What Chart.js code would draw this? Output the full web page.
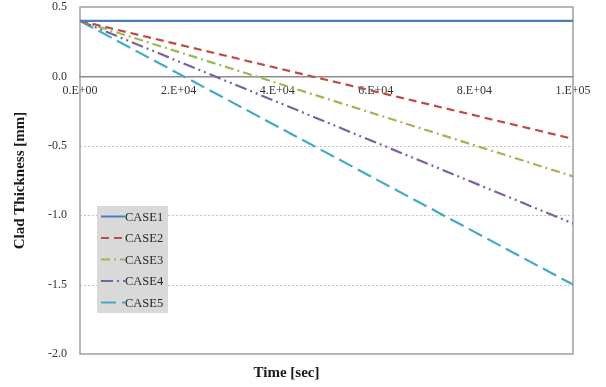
<!DOCTYPE html>
<html>
<head>
<meta charset="utf-8">
<script src="https://cdn.jsdelivr.net/npm/chart.js@4"></script>
<style>
  html, body { margin: 0; padding: 0; background: #fff; }
  #wrap { width: 606px; height: 387px; }
</style>
</head>
<body>
<div id="wrap"><canvas id="chart"></canvas></div>
<script>
const timeSec = [0, 100000];
const caseLabels = ["CASE1", "CASE2", "CASE3", "CASE4", "CASE5"];
const case1 = [0.4, 0.4];
const case2 = [0.4, -0.45];
const case3 = [0.4, -0.72];
const case4 = [0.4, -1.06];
const case5 = [0.4, -1.5];
const yTicks = [0.5, 0.0, -0.5, -1.0, -1.5, -2.0];

const colors = ["#4a7ebb", "#be4b48", "#98b954", "#7d60a0", "#46aac5"];
const dashes = [[], [8, 5], [9, 4, 2, 4], [12, 4, 2, 4, 2, 4], [15, 6]];
const serif = "'Liberation Serif', 'Times New Roman', serif";

const series = [case1, case2, case3, case4, case5];
const datasets = series.map((vals, i) => ({
  label: caseLabels[i],
  data: vals.map((y, j) => ({ x: timeSec[j], y })),
  borderColor: colors[i],
  borderDash: dashes[i],
  borderWidth: 2.2,
  pointRadius: 0,
  fill: false,
}));

function sciLabel(v) {
  if (v === 0) return "0.E+00";
  const exp = Math.floor(Math.log10(v));
  const m = Math.round(v / Math.pow(10, exp));
  return m + ".E+" + String(exp).padStart(2, "0");
}

// dotted y grid + outer frame
const framePlugin = {
  id: "frame",
  beforeDatasetsDraw(chart) {
    const { ctx, chartArea: a, scales } = chart;
    ctx.save();
    ctx.strokeStyle = "#c4c4c4";
    ctx.lineWidth = 1;
    ctx.setLineDash([2, 2]);
    for (const v of yTicks) {
      if (v === 0.5 || v === 0 || v === -2) continue;
      const y = Math.round(scales.y.getPixelForValue(v)) + 0.5;
      ctx.beginPath();
      ctx.moveTo(a.left, y);
      ctx.lineTo(a.right, y);
      ctx.stroke();
    }
    ctx.setLineDash([]);
    ctx.strokeStyle = "#a0a0a0";
    ctx.lineWidth = 1.5;
    ctx.strokeRect(a.left, a.top, a.right - a.left, a.bottom - a.top);
    ctx.restore();
  },
};

// legend box inside the plot
const boxLegend = {
  id: "boxLegend",
  afterDatasetsDraw(chart) {
    const { ctx } = chart;
    const x0 = 97, y0 = 206, w = 71, h = 107, step = 21.5;
    ctx.save();
    ctx.fillStyle = "#d9d9d9";
    ctx.fillRect(x0, y0, w, h);
    ctx.font = "12.5px " + serif;
    ctx.textBaseline = "middle";
    ctx.fillStyle = "#262626";
    chart.data.datasets.forEach((ds, i) => {
      const y = y0 + 10.5 + i * step;
      ctx.strokeStyle = ds.borderColor;
      ctx.lineWidth = 2;
      ctx.setLineDash(ds.borderDash);
      ctx.beginPath();
      ctx.moveTo(x0 + 4, y);
      ctx.lineTo(x0 + 28, y);
      ctx.stroke();
      ctx.setLineDash([]);
      ctx.fillText(ds.label, x0 + 28, y + 1);
    });
    ctx.restore();
  },
};

new Chart(document.getElementById("chart"), {
  type: "line",
  data: { datasets },
  plugins: [framePlugin, boxLegend],
  options: {
    responsive: true,
    maintainAspectRatio: false,
    animation: false,
    layout: { padding: { left: 0, right: 33, top: 7, bottom: 0 } },
    plugins: {
      legend: { display: false },
      tooltip: { enabled: false },
      title: {
        display: true,
        position: "bottom",
        text: "Time [sec]",
        color: "#1a1a1a",
        font: { family: serif, size: 15, weight: "bold" },
        padding: { top: 10, bottom: 5 },
      },
    },
    scales: {
      x: {
        type: "linear",
        position: { y: 0 },
        min: 0,
        max: 100000,
        afterFit(scale) { scale.paddingLeft = 0; scale.paddingRight = 0; },
        grid: { display: true, drawOnChartArea: false, drawTicks: false },
        border: { display: true, color: "#8c8c8c", width: 1.5 },
        ticks: {
          stepSize: 20000,
          padding: 7,
          maxRotation: 0,
          color: "#333333",
          font: { family: serif, size: 12 },
          callback: (v) => sciLabel(v),
        },
      },
      y: {
        type: "linear",
        min: -2,
        max: 0.5,
        afterFit(scale) {
          scale.width = 80;
          scale.paddingTop = 0;
          scale.paddingBottom = 0;
        },
        grid: { display: false, drawTicks: false },
        border: { display: false },
        ticks: {
          stepSize: 0.5,
          padding: 13,
          color: "#333333",
          font: { family: serif, size: 12 },
          callback: (v) => v.toFixed(1),
        },
        title: {
          display: true,
          text: "Clad Thickness [mm]",
          color: "#1a1a1a",
          font: { family: serif, size: 15, weight: "bold" },
          padding: { top: 11, bottom: 0 },
        },
      },
    },
  },
});
</script>
</body>
</html>
